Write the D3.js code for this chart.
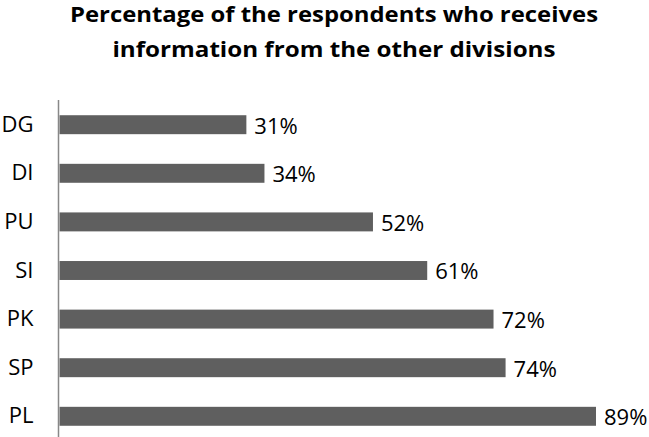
<!DOCTYPE html>
<html>
<head>
<meta charset="utf-8">
<script src="https://cdn.jsdelivr.net/npm/d3@7"></script>
<style>
  html, body { margin: 0; padding: 0; background: #fff; }
  svg { display: block; }
</style>
</head>
<body>
<svg id="chart" width="649" height="437"></svg>
<script>
// Divisions, top to bottom, and the share of respondents (%)
const divisions = ["DG", "DI", "PU", "SI", "PK", "SP", "PL"];
const shares = [31, 34, 52, 61, 72, 74, 89];
const titleLines = [
  "Percentage of the respondents who receives",
  "information from the other divisions"
];

const svg = d3.select("#chart");
const W = 649, H = 437;
const fontFamily = "'Open Sans', Lato, 'Liberation Sans', sans-serif";

const x = d3.scaleLinear().domain([0, 89]).range([59.5, 596]);
const y = d3.scaleBand()
  .domain(divisions)
  .range([100.5, 440.5])
  .paddingInner(0.61)
  .paddingOuter(0.303);

// Title, two bold centred lines
const titleBaselines = [22, 57];
const titleWidths = [528, 443];
svg.append("g").attr("class", "title")
  .selectAll("text")
  .data(titleLines)
  .join("text")
  .attr("x", 334)
  .attr("y", (d, i) => titleBaselines[i])
  .attr("text-anchor", "middle")
  .attr("font-family", fontFamily)
  .attr("font-weight", "bold")
  .attr("font-size", 22)
  .attr("textLength", (d, i) => titleWidths[i])
  .attr("lengthAdjust", "spacingAndGlyphs")
  .attr("fill", "#000")
  .text(d => d);

// Bars
svg.append("g").selectAll("rect")
  .data(divisions)
  .join("rect")
  .attr("x", x(0))
  .attr("y", d => y(d))
  .attr("width", (d, i) => x(shares[i]) - x(0))
  .attr("height", y.bandwidth())
  .attr("fill", "#5f5f5f");

// Vertical category axis
const yAxis = d3.axisLeft(y).tickSize(0).tickPadding(25);
const ay = svg.append("g")
  .attr("transform", `translate(${x(0) - 1},0)`)
  .call(yAxis);
ay.select(".domain").remove();
ay.append("line")
  .attr("x1", 0).attr("x2", 0)
  .attr("y1", 100).attr("y2", H)
  .attr("stroke", "#888")
  .attr("stroke-width", 1.5);
ay.selectAll(".tick text")
  .attr("font-family", fontFamily)
  .attr("font-size", 22)
  .attr("fill", "#000");

// Value labels
svg.append("g").selectAll("text")
  .data(divisions)
  .join("text")
  .attr("x", (d, i) => x(shares[i]) + 8)
  .attr("y", d => y(d) + y.bandwidth() / 2 + 1)
  .attr("dy", "0.36em")
  .attr("font-family", fontFamily)
  .attr("font-size", 22)
  .attr("fill", "#000")
  .text((d, i) => shares[i] + "%");
</script>
</body>
</html>
